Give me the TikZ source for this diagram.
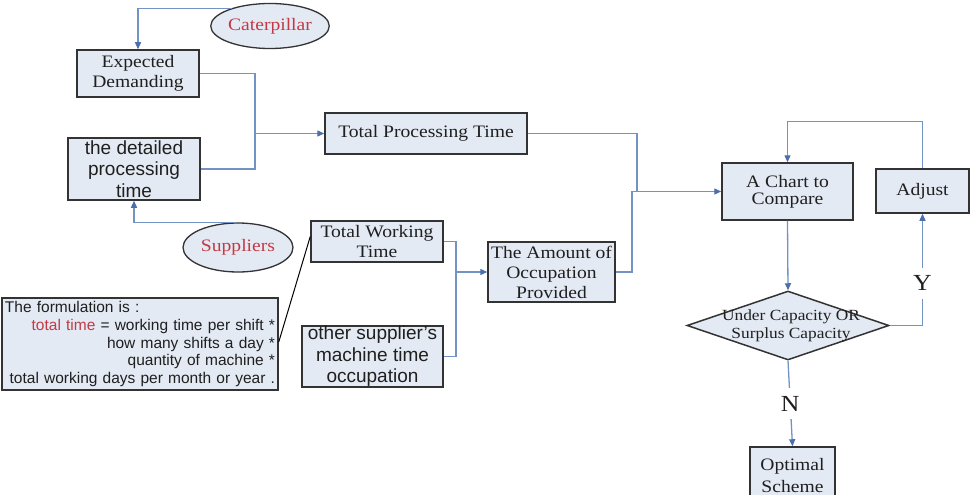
\documentclass[tikz,border=0pt]{standalone}
\usepackage{fontspec}
\setmainfont{Liberation Serif}[FakeStretch=1.12]
\setsansfont{Liberation Sans}
\usetikzlibrary{shapes.geometric,arrows.meta,calc}
\definecolor{boxfill}{HTML}{E4EAF4}
\definecolor{boxline}{HTML}{333333}
\definecolor{linkc}{HTML}{7393C4}
\definecolor{tipc}{HTML}{4B6EAD}
\definecolor{redtxt}{HTML}{C23A45}
\tikzset{
  box/.style={draw=boxline, fill=boxfill, line width=1.5pt, inner sep=0pt, align=center, text=black!88},
  serif/.style={font=\fontsize{17.5}{20}\selectfont},
  sans/.style={font=\sffamily\fontsize{19}{21.5}\selectfont},
  oval/.style={ellipse, draw=boxline, fill=boxfill, line width=1.3pt, inner sep=0pt,
    text=redtxt, font=\fontsize{17.5}{20}\selectfont},
  link/.style={draw=linkc, line width=1.3pt},
  arr/.style={link, -{Triangle[length=7pt,width=6pt,fill=tipc,color=tipc]}},
  yn/.style={fill=white, inner xsep=2pt, inner ysep=8pt, text=black!88, font=\fontsize{23}{23}\selectfont}
}
\begin{document}
\begin{tikzpicture}[x=1pt,y=-1pt]
\clip (0,0) rectangle (970,495);
\fill[white] (0,0) rectangle (970,495);

% sources
\node[oval, minimum width=106pt, minimum height=45pt] (cat) at (270,26) {Caterpillar};
\node[oval, minimum width=110pt, minimum height=49pt] (sup) at (238,247.5) {Suppliers};

% left column
\node[box, serif, minimum width=122pt, minimum height=47pt] (exp) at (138,73.5) {Expected\\Demanding};
\node[box, sans, minimum width=132pt, minimum height=62pt] (det) at (134,169) {the detailed\\processing\\time};
\node[box, serif, minimum width=202pt, minimum height=41pt] (tpt) at (426,133.5) {Total Processing Time};

\node[box, serif, minimum width=132pt, minimum height=41pt] (twt) at (377,241.5) {Total Working\\Time};
\node[box, sans, minimum width=141pt, minimum height=61pt] (oth) at (372.5,356.5) {other supplier's\\machine time\\occupation};
\node[box, font=\sffamily\fontsize{15.5}{17.7}\selectfont, minimum width=276pt, minimum height=92pt,
      text width=270pt, align=right] (form) at (140,344)
  {\makebox[\linewidth][l]{The formulation is :}\\
   {\color{redtxt}total time} = working time per shift *\\
   how many shifts a day *\\
   quantity of machine *\\
   total working days per month or year .};
\node[box, serif, minimum width=127pt, minimum height=60pt] (amt) at (551.5,272) {The Amount of\\Occupation\\Provided};

% decision part
\node[box, font=\fontsize{17.5}{17}\selectfont, minimum width=131pt, minimum height=57pt] (chart) at (787.5,191.5) {A Chart to\\Compare};
\node[box, serif, minimum width=93pt, minimum height=44pt] (adj) at (922.5,191) {Adjust};
\node[diamond, draw=boxline, fill=boxfill, line width=1.5pt, minimum width=202pt, minimum height=69pt, inner sep=0pt,
      label={[align=center, text=black!88, font=\fontsize{15.5}{18}\selectfont, xshift=3pt]center:Under Capacity OR\\Surplus Capacity}]
      (dia) at (788,325.5) {};
\node[box, font=\fontsize{17.5}{22}\selectfont, minimum width=85pt, minimum height=58pt] (opt) at (792.5,476) {Optimal\\Scheme};

% junction points
\coordinate (j1) at (255,133.5);
\coordinate (j2) at (456,272);
\coordinate (j3) at (637,191.5);
\coordinate (j4) at (632,191.5);

% connectors
\draw[arr] (cat.155) -| (exp.north);
\draw[arr] (sup.95) -| (det.south);
\draw[link] (exp.east) -| (j1) |- (det.east);
\draw[arr] (j1) -- (tpt.west);
\draw[black, line width=1pt] ($(form.east)+(0,-2)$) -- ($(twt.west)+(0,-5)$);
\draw[link] (twt.east) -| (j2) |- (oth.east);
\draw[arr] (j2) -- (amt.west);
\draw[link] (tpt.east) -| (j3);
\draw[arr] (amt.east) -| (j4) -- (chart.west);
\draw[arr] (adj.north) -- ++(0,-47) -| (chart.north);
\draw[arr] (chart.south) -- (dia.north);
\draw[arr] (dia.east) -| node[yn, pos=0.69] {Y} (adj.south);
\draw[arr] (dia.south) -- node[yn, pos=0.5] {N} (opt.north);
\end{tikzpicture}
\end{document}
